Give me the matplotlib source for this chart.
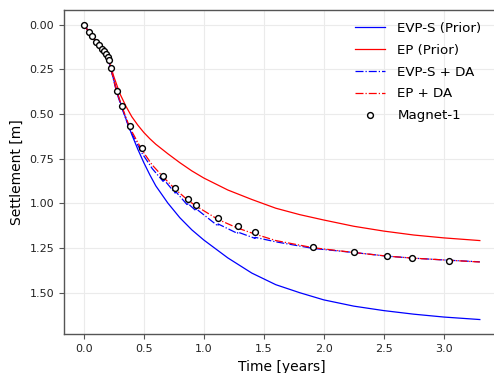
import matplotlib
matplotlib.use("Agg")
import matplotlib.pyplot as plt

# Magnet-1 observations
obs_t = [0.0, 0.042, 0.067, 0.100, 0.125, 0.150, 0.167, 0.183, 0.200, 0.208, 0.225,
         0.273, 0.320, 0.383, 0.483, 0.661, 0.761, 0.867, 0.936, 1.119, 1.281, 1.428,
         1.911, 2.253, 2.525, 2.736, 3.039]
obs_s = [0.0, 0.039, 0.061, 0.095, 0.112, 0.134, 0.145, 0.162, 0.178, 0.200, 0.240,
         0.370, 0.457, 0.569, 0.692, 0.846, 0.915, 0.976, 1.008, 1.080, 1.127, 1.162,
         1.242, 1.273, 1.294, 1.307, 1.322]

# EVP-S (Prior)
evps_t = [0.0, 0.1, 0.2, 0.25, 0.3, 0.35, 0.4, 0.45, 0.5, 0.55, 0.6, 0.7, 0.8, 0.9,
          1.0, 1.2, 1.4, 1.6, 1.8, 2.0, 2.25, 2.5, 2.75, 3.0, 3.3]
evps_s = [0.0, 0.093, 0.185, 0.31, 0.425, 0.525, 0.615, 0.697, 0.772, 0.840, 0.902,
          0.998, 1.080, 1.148, 1.205, 1.305, 1.390, 1.455, 1.500, 1.540, 1.575, 1.600,
          1.620, 1.636, 1.650]

# EP (Prior)
ep_t = [0.0, 0.1, 0.2, 0.25, 0.3, 0.35, 0.4, 0.45, 0.5, 0.55, 0.6, 0.7, 0.8, 0.9, 1.0,
        1.2, 1.4, 1.6, 1.8, 2.0, 2.25, 2.5, 2.75, 3.0, 3.3]
ep_s = [0.0, 0.09, 0.18, 0.29, 0.385, 0.455, 0.515, 0.562, 0.603, 0.638, 0.669, 0.722,
        0.772, 0.818, 0.858, 0.925, 0.978, 1.027, 1.063, 1.093, 1.128, 1.155, 1.177,
        1.193, 1.208]

# EVP-S + DA (with update notches at observation times)
evpsda_t = [0.0, 0.042, 0.067, 0.100, 0.125, 0.150, 0.167, 0.183, 0.200, 0.208, 0.225,
            0.273, 0.320, 0.383, 0.483, 0.570, 0.661, 0.661, 0.761, 0.761, 0.867, 0.867,
            0.936, 0.936, 1.119, 1.119, 1.281, 1.281, 1.428, 1.428, 1.6, 1.911, 2.253,
            2.525, 2.736, 3.039, 3.3]
evpsda_s = [0.0, 0.040, 0.062, 0.096, 0.113, 0.136, 0.148, 0.165, 0.180, 0.205, 0.245,
            0.378, 0.472, 0.587, 0.717, 0.805, 0.877, 0.862, 0.942, 0.930, 1.012, 1.000,
            1.042, 1.030, 1.127, 1.115, 1.168, 1.160, 1.196, 1.190, 1.215, 1.252, 1.275,
            1.295, 1.306, 1.318, 1.327]

# EP + DA
epda_t = [0.0, 0.042, 0.067, 0.100, 0.125, 0.150, 0.167, 0.183, 0.200, 0.208, 0.225,
          0.273, 0.320, 0.383, 0.483, 0.570, 0.661, 0.761, 0.867, 0.936, 1.119, 1.281,
          1.428, 1.6, 1.911, 2.253, 2.525, 2.736, 3.039, 3.3]
epda_s = [0.0, 0.040, 0.062, 0.096, 0.113, 0.136, 0.148, 0.165, 0.180, 0.203, 0.242,
          0.372, 0.462, 0.576, 0.700, 0.785, 0.852, 0.920, 0.982, 1.015, 1.090, 1.138,
          1.172, 1.208, 1.248, 1.275, 1.295, 1.306, 1.318, 1.328]

plt.rcParams['font.family'] = ['DejaVu Sans']

fig = plt.figure(figsize=(4.94, 3.73), dpi=100)
ax = fig.add_axes([0.1296, 0.1038, 0.8818, 0.8694])

lw = 0.9
ax.plot(evps_t, evps_s, color='blue', lw=lw, label='EVP-S (Prior)')
ax.plot(ep_t, ep_s, color='red', lw=lw, label='EP (Prior)')
ax.plot(evpsda_t, evpsda_s, color='blue', lw=lw, ls='-.', label='EVP-S + DA')
ax.plot(epda_t, epda_s, color='red', lw=lw, ls='-.', label='EP + DA')
ax.plot(obs_t, obs_s, ls='none', marker='o', ms=4.2, mfc='white', mec='black',
        mew=1.0, label='Magnet-1')

ax.invert_yaxis()
ax.grid(True, color='#ebebeb', lw=0.8)
ax.set_axisbelow(True)
for sp in ax.spines.values():
    sp.set_color('#555555')
    sp.set_linewidth(1.0)
ax.tick_params(labelsize=8, color='#555555', labelcolor='#222222')
ax.set_xlabel('Time [years]', fontsize=10)
ax.set_ylabel('Settlement [m]', fontsize=10)
ax.set_xticks([0.0, 0.5, 1.0, 1.5, 2.0, 2.5, 3.0])
ax.set_yticks([0.0, 0.25, 0.5, 0.75, 1.0, 1.25, 1.5])
ax.set_yticklabels(['0.00', '0.25', '0.50', '0.75', '1.00', '1.25', '1.50'])

leg = ax.legend(loc='upper right', frameon=False, fontsize=9.6,
                labelspacing=0.66, handlelength=2.25, handletextpad=0.9,
                bbox_to_anchor=(0.0, 0.0, 0.986, 1.0))

fig.savefig('out.png', dpi=100)
